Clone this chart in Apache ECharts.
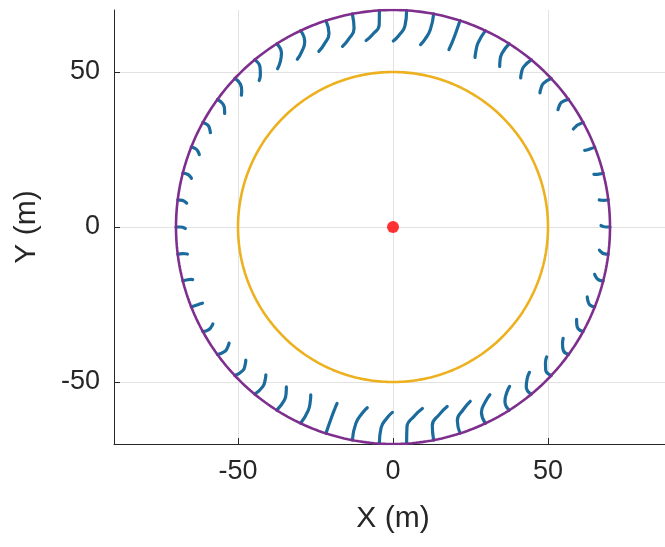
<!DOCTYPE html>
<html><head><meta charset="utf-8">
<script src="https://cdn.jsdelivr.net/npm/echarts@6/dist/echarts.min.js"></script>
<style>html,body{margin:0;padding:0;background:#fff}#c{width:665px;height:547px}</style>
</head><body><div id="c"></div>
<script>
// ---- data ----
const xTicks = [-50, 0, 50];
const yTicks = [-50, 0, 50];
const outerRadius = 70;   // purple boundary circle
const innerRadius = 50;   // yellow circle
const centerPoint = [[0, 0]];
// start angle (deg) of each blue trajectory on the outer circle
const arcTheta = [0, 7.2, 14.4, 21.6, 28.8, 36, 43.2, 50.4, 57.6, 64.8, 72, 79.2, 86.4,
  93.6, 100.8, 108, 115.2, 122.4, 129.6, 136.8, 144, 151.2, 158.4, 165.6, 172.8,
  180, 187.2, 194.4, 201.6, 208.8, 216, 223.2, 230.4, 237.6, 244.8, 252, 259.2, 266.4,
  273.6, 280.8, 288, 295.2, 302.4, 309.6, 316.8, 324, 331.2, 338.4, 345.6, 352.8];
// radius reached at the inner end of each trajectory
const arcEndR = [67.1, 67.1, 67.0, 66.6, 66.2, 65.3, 64.2, 63.3, 62.2, 60.8, 60.0, 59.5, 60.0,
  60.8, 60.5, 61.5, 62.3, 63.2, 64.0, 64.8, 65.5, 66.3, 66.7, 66.9, 67.0,
  67.0, 66.9, 66.8, 66.2, 66.0, 64.8, 64.0, 62.9, 62.0, 60.3, 59.7, 58.9, 59.8,
  59.3, 60.5, 61.5, 62.5, 63.7, 64.3, 64.9, 65.6, 66.3, 66.6, 66.8, 67.0];
// angular turn (deg, counter-clockwise) of the inner end
const arcEndTurn = [0.4, 0.3, 0.3, 0.2, -0.3, -0.6, -0.8, -1.0, -1.2, -0.6, 0.5, 2.2, 3.5,
  4.6, 4.8, 4.9, 4.5, 3.7, 2.8, 2.2, 2.0, 1.5, 1.1, 0.8, 0.6,
  0.4, 0.3, 0.3, 0.2, -0.5, -0.7, -1.1, -1.1, -1.3, -0.9, 0.4, 2.7, 3.4,
  5.6, 6.0, 5.9, 4.8, 3.8, 3.6, 3.0, 2.8, 2.1, 1.8, 1.2, 0.8];
// angular turn (deg) at half depth of each trajectory
const arcMidTurn = [0, 0, 0, 0, 0.1, 0.5, 0.5, 0.4, 0.3, 0.4, 0.1, 0.1, 0.2,
  0.3, 0.3, 0.3, 0.3, 0.3, 0.2, 0.1, 0.1, 0, 0, 0, 0,
  0, 0, 0, 0.1, 0.3, 0.5, 0.5, 0.4, 0.3, 0.4, 0.1, 0.1, 0.2,
  0.4, 0.4, 0.4, 0.3, 0.3, 0.2, 0.1, 0.1, 0, 0, 0, 0];
// shape of the tail: fraction of the depth where the hook starts
const hookDepth = 0.82;

// ---- build ----
function polar(r, deg) { const a = deg * Math.PI / 180; return [r * Math.cos(a), r * Math.sin(a)]; }
function circle(r) { const p = []; for (let d = 0; d <= 360; d += 1) p.push(polar(r, d)); return p; }

const TXT = '#262626';
const FONT = 'Liberation Sans, Arial, Helvetica, sans-serif';
const series = [];
arcTheta.forEach((t, i) => {
  const depth = outerRadius - arcEndR[i];
  const m = arcMidTurn[i], e = arcEndTurn[i];
  series.push({
    type: 'line', smooth: 0.5, showSymbol: false, silent: true, z: 2,
    lineStyle: { color: '#1b6b9d', width: 3.2, cap: 'round' },
    data: [
      polar(outerRadius, t),
      polar(outerRadius - 0.5 * depth, t + m),
      polar(outerRadius - hookDepth * depth, t + (m + e) / 2),
      polar(arcEndR[i], t + e)
    ]
  });
});
series.push({ type: 'line', showSymbol: false, silent: true, z: 3, data: circle(outerRadius),
  lineStyle: { color: '#7E2F8E', width: 2.6 } });
series.push({ type: 'line', showSymbol: false, silent: true, z: 3, data: circle(innerRadius),
  lineStyle: { color: '#EDB120', width: 2.6 } });
series.push({ type: 'scatter', data: centerPoint, symbolSize: 12, z: 4,
  itemStyle: { color: '#ff0000' } });

const chart = echarts.init(document.getElementById('c'), null, { renderer: 'canvas' });
chart.setOption({
  animation: false,
  backgroundColor: '#ffffff',
  grid: { left: 114, top: 10, right: -7, bottom: 103, containLabel: false, outerBoundsMode: 'none' },
  xAxis: {
    type: 'value', min: -90, max: 90,
    axisLine: { show: true, onZero: false, lineStyle: { color: TXT, width: 1 } },
    axisTick: { show: true, inside: true, length: 6, customValues: xTicks, lineStyle: { color: TXT } },
    axisLabel: { customValues: xTicks, fontSize: 27, color: TXT, fontFamily: FONT, margin: 14 },
    splitLine: { show: true, lineStyle: { color: '#e2e2e2', width: 1 } },
    name: 'X (m)', nameLocation: 'middle', nameGap: 60,
    nameTextStyle: { fontSize: 30, color: TXT, fontFamily: FONT }
  },
  yAxis: {
    type: 'value', min: -70, max: 70,
    axisLine: { show: true, onZero: false, lineStyle: { color: TXT, width: 1 } },
    axisTick: { show: true, inside: true, length: 6, customValues: yTicks, lineStyle: { color: TXT } },
    axisLabel: { customValues: yTicks, fontSize: 27, color: TXT, fontFamily: FONT, margin: 14 },
    splitLine: { show: true, lineStyle: { color: '#e2e2e2', width: 1 } },
    name: 'Y (m)', nameLocation: 'middle', nameGap: 72, nameRotate: 90,
    nameTextStyle: { fontSize: 30, color: TXT, fontFamily: FONT }
  },
  series: series
});
</script>
</body></html>
